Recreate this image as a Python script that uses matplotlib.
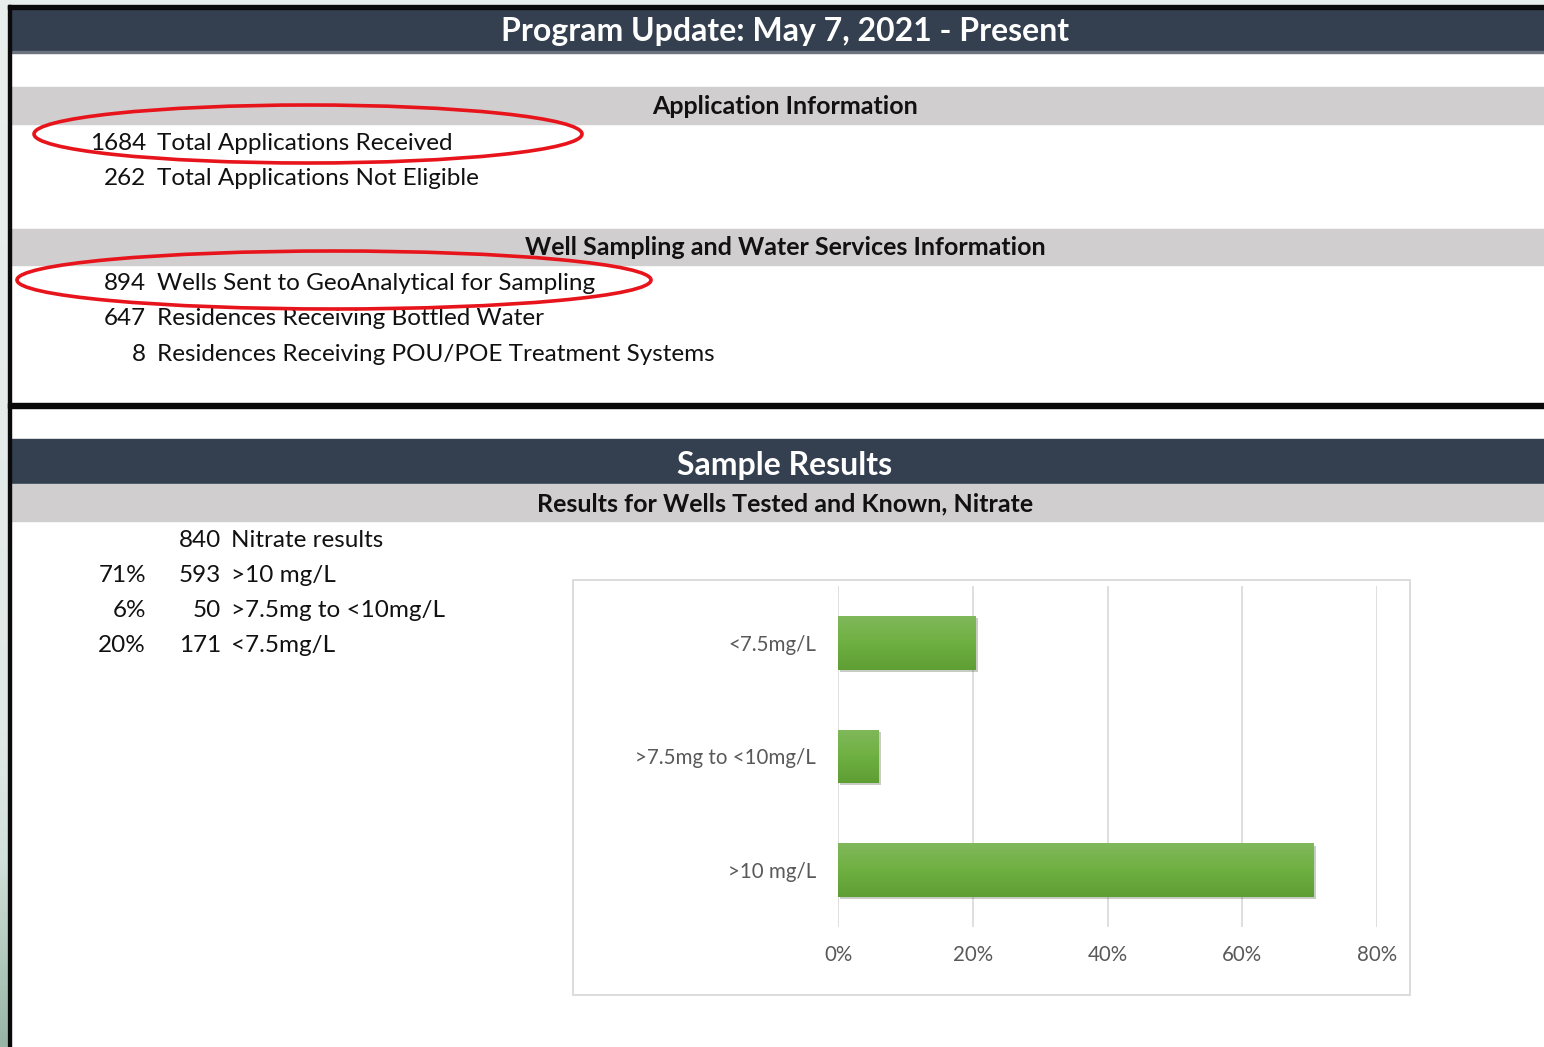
import matplotlib
matplotlib.use("Agg")
import matplotlib.pyplot as plt
import numpy as np
from matplotlib.patches import Rectangle, Ellipse
from matplotlib.colors import LinearSegmentedColormap
import matplotlib.patheffects as pe

# ---------------- data ----------------
title = "Program Update: May 7, 2021 - Present"
app_header = "Application Information"
app_counts = ["1684", "262"]
app_labels = ["Total Applications Received", "Total Applications Not Eligible"]
well_header = "Well Sampling and Water Services Information"
well_counts = ["894", "647", "8"]
well_labels = ["Wells Sent to GeoAnalytical for Sampling",
               "Residences Receiving Bottled Water",
               "Residences Receiving POU/POE Treatment Systems"]
results_title = "Sample Results"
results_header = "Results for Wells Tested and Known, Nitrate"
nitrate_pcts = ["", "71%", "6%", "20%"]
nitrate_counts = ["840", "593", "50", "171"]
nitrate_labels = ["Nitrate results", ">10 mg/L", ">7.5mg to <10mg/L", "<7.5mg/L"]

bar_categories = [">10 mg/L", ">7.5mg to <10mg/L", "<7.5mg/L"]
bar_values = [0.706, 0.060, 0.204]
x_ticks = [0.0, 0.2, 0.4, 0.6, 0.8]
x_ticklabels = ["0%", "20%", "40%", "60%", "80%"]

# ---------------- figure ----------------
W, H = 1544, 1047
plt.rcParams['font.family'] = ['Lato', 'DejaVu Sans']
fig = plt.figure(figsize=(W / 100, H / 100), dpi=100)
bg = fig.add_axes([0, 0, 1, 1])
bg.set_xlim(0, W)
bg.set_ylim(H, 0)
bg.axis('off')

# outer background
bg.add_patch(Rectangle((0, 0), W, H, color='#e8eeec', zorder=0))
# left gradient strip
cmap = LinearSegmentedColormap.from_list(
    'strip', [(0, '#e9efed'), (0.7, '#e1e9e6'), (0.82, '#d3e1dc'), (1.0, '#97b6a5')])
grad = np.linspace(0, 1, 256).reshape(-1, 1)
bg.imshow(grad, extent=[0, 8, H, 0], cmap=cmap, aspect='auto', zorder=1)
bg.set_xlim(0, W)
bg.set_ylim(H, 0)
# white page
bg.add_patch(Rectangle((8, 5), W - 8, H - 5, color='white', zorder=1))
# black frame lines
bg.add_patch(Rectangle((8, 5), W - 8, 4, color='#0a0a0a', zorder=3))
bg.add_patch(Rectangle((8, 5), 3, H - 5, color='#0a0a0a', zorder=3))
bg.add_patch(Rectangle((8, 403), W - 8, 5, color='#0a0a0a', zorder=3))

dark = '#343f4f'
gray = '#d0cecf'
# header bands
bg.add_patch(Rectangle((11, 9), W, 42, color=dark, zorder=2))
bg.add_patch(Rectangle((11, 51), W, 1.5, color='#6b7280', zorder=2))
bg.add_patch(Rectangle((11, 87), W, 37, color=gray, zorder=2))
bg.add_patch(Rectangle((11, 229), W, 36, color=gray, zorder=2))
bg.add_patch(Rectangle((11, 439), W, 45, color=dark, zorder=2))
bg.add_patch(Rectangle((11, 484), W, 37, color=gray, zorder=2))

cx = 785
bg.text(cx, 41, title, color='white', fontsize=23, fontweight='bold',
        ha='center', va='baseline', zorder=4)
bg.text(cx, 114, app_header, color='#111111', fontsize=18, fontweight='bold',
        ha='center', va='baseline', zorder=4)
bg.text(cx, 255, well_header, color='#111111', fontsize=18, fontweight='bold',
        ha='center', va='baseline', zorder=4)
bg.text(cx, 475, results_title, color='white', fontsize=23, fontweight='bold',
        ha='center', va='baseline', zorder=4)
bg.text(cx, 511, results_header, color='#111111', fontsize=18, fontweight='bold',
        ha='center', va='baseline', zorder=4)

body = dict(color='#111111', fontsize=17.5, va='baseline', zorder=4)
for i, (c, l) in enumerate(zip(app_counts, app_labels)):
    y = 150 + 35 * i
    bg.text(146, y, c, ha='right', **body)
    bg.text(157, y, l, ha='left', **body)
for i, (c, l) in enumerate(zip(well_counts, well_labels)):
    y = 290 + 35.3 * i
    bg.text(146, y, c, ha='right', **body)
    bg.text(157, y, l, ha='left', **body)
for i, (p, c, l) in enumerate(zip(nitrate_pcts, nitrate_counts, nitrate_labels)):
    y = 547 + 35 * i
    if p:
        bg.text(146, y, p, ha='right', **body)
    bg.text(221, y, c, ha='right', **body)
    bg.text(231, y, l, ha='left', **body)

# red ellipses
bg.add_patch(Ellipse((308, 134), 548, 58, fill=False, edgecolor='#e8141b', lw=2.6, zorder=6))
bg.add_patch(Ellipse((334, 280), 634, 58, fill=False, edgecolor='#e8141b', lw=2.6, zorder=6))

# chart border box
bg.add_patch(Rectangle((573, 580), 837, 415, fill=False, edgecolor='#d9d9d9', lw=1.3, zorder=2))

# ---------------- bar chart ----------------
left, right, top, bottom = 838, 1377, 586, 927
ax = fig.add_axes([left / W, (H - bottom) / H, (right - left) / W, (bottom - top) / H])
ax.set_facecolor('none')
ypos = np.arange(len(bar_categories))
bars = ax.barh(ypos, bar_values, height=0.47, color='#6fb042', zorder=3,
               path_effects=[pe.SimplePatchShadow(offset=(1.5, -1.5), alpha=0.25), pe.Normal()])
gcmap = LinearSegmentedColormap.from_list('g', ['#80b85a', '#6fb042', '#5e9e33'])
ggrad = np.linspace(0, 1, 64).reshape(-1, 1)
for b in bars:
    x0, y0 = b.get_x(), b.get_y()
    w, h = b.get_width(), b.get_height()
    im = ax.imshow(ggrad, extent=[x0, x0 + w, y0, y0 + h], cmap=gcmap,
                   aspect='auto', origin='upper', zorder=4)
    im.set_clip_path(b)
ax.set_xlim(0, 0.8)
ax.set_ylim(-0.5, 2.5)
ax.set_xticks(x_ticks)
ax.set_xticklabels(x_ticklabels)
ax.set_yticks(ypos)
ax.set_yticklabels(bar_categories)
ax.grid(axis='x', color='#d9d9d9', lw=1.2, zorder=0)
ax.set_axisbelow(True)
for s in ax.spines.values():
    s.set_visible(False)
ax.tick_params(axis='both', length=0, colors='#595959', labelsize=14.8)
ax.tick_params(axis='x', pad=13)
ax.tick_params(axis='y', pad=16)

fig.savefig('out.png', dpi=100)
